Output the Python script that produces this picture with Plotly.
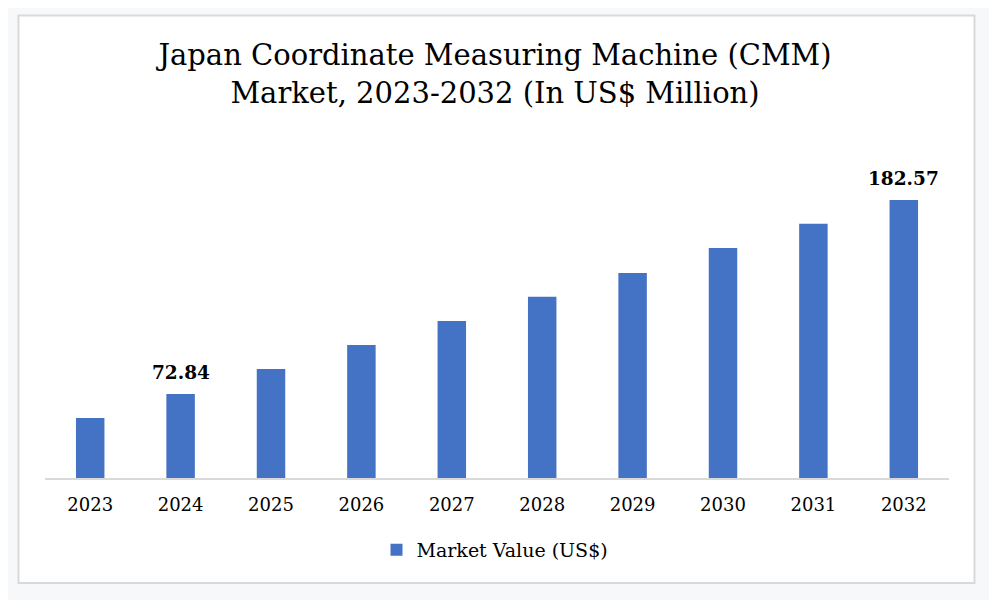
import plotly.graph_objects as go

years = ["2023", "2024", "2025", "2026", "2027", "2028", "2029", "2030", "2031", "2032"]
values = [59.27, 72.84, 86.98, 100.56, 114.13, 127.88, 141.28, 155.42, 169.17, 182.57]
labelled = ["2024", "2032"]
series_name = "Market Value (US$)"
title_text = "Japan Coordinate Measuring Machine (CMM)<br>Market, 2023-2032 (In US$ Million)"

OFF = 8  # page body margin
W, H = 997 - OFF, 600 - OFF
ML, MR, MT, MB = 45 - OFF, 48, 150 - OFF, 122
PW, PH = W - ML - MR, H - MT - MB
BAR = "#4472C4"
SERIF = "DejaVu Serif"
PX_PER_UNIT = 1.768
Y0 = 25.33

fig = go.Figure()
fig.add_trace(go.Bar(x=years, y=values, name=series_name, marker=dict(color=BAR, line=dict(width=0)),
                     showlegend=True))

for i, (yr, v) in enumerate(zip(years, values)):
    if yr in labelled:
        fig.add_annotation(x=i, y=v, text=f"<b>{v:.2f}</b>", showarrow=False,
                           yanchor="bottom", yshift=9,
                           font=dict(family=SERIF, size=18.5, color="#000000"))

def px_x(p):
    return (p - OFF - ML) / PW

def px_y(p):
    return (H - MB - (p - OFF)) / PH

fig.add_shape(type="rect", xref="paper", yref="paper",
              x0=px_x(18.5), x1=px_x(974.5), y0=px_y(583), y1=px_y(15.5),
              line=dict(color="#d9d9d9", width=2), fillcolor="#ffffff", layer="below")

fig.update_layout(
    width=W, height=H,
    margin=dict(l=ML, r=MR, t=MT, b=MB),
    paper_bgcolor="#f7f8fa", plot_bgcolor="rgba(0,0,0,0)",
    title=dict(text=title_text, xref="paper", x=px_x(495), xanchor="center", y=1 - 57 / H,
               yanchor="middle", font=dict(family=SERIF, size=29, color="#000000")),
    bargap=0.685,
    showlegend=True,
    legend=dict(orientation="h", x=px_x(495), xanchor="center", y=px_y(550), yanchor="middle",
                font=dict(family=SERIF, size=19, color="#000000"), bgcolor="rgba(0,0,0,0)"),
    xaxis=dict(type="category", range=[-0.5, len(years) - 0.5], showline=True, linecolor="#d9d9d9",
               linewidth=2, showgrid=False, ticks="",
               tickfont=dict(family=SERIF, size=18, color="#000000"), ticklabelstandoff=9),
    yaxis=dict(visible=False, range=[Y0, Y0 + PH / PX_PER_UNIT], showgrid=False),
)

fig.write_html("out.html")
